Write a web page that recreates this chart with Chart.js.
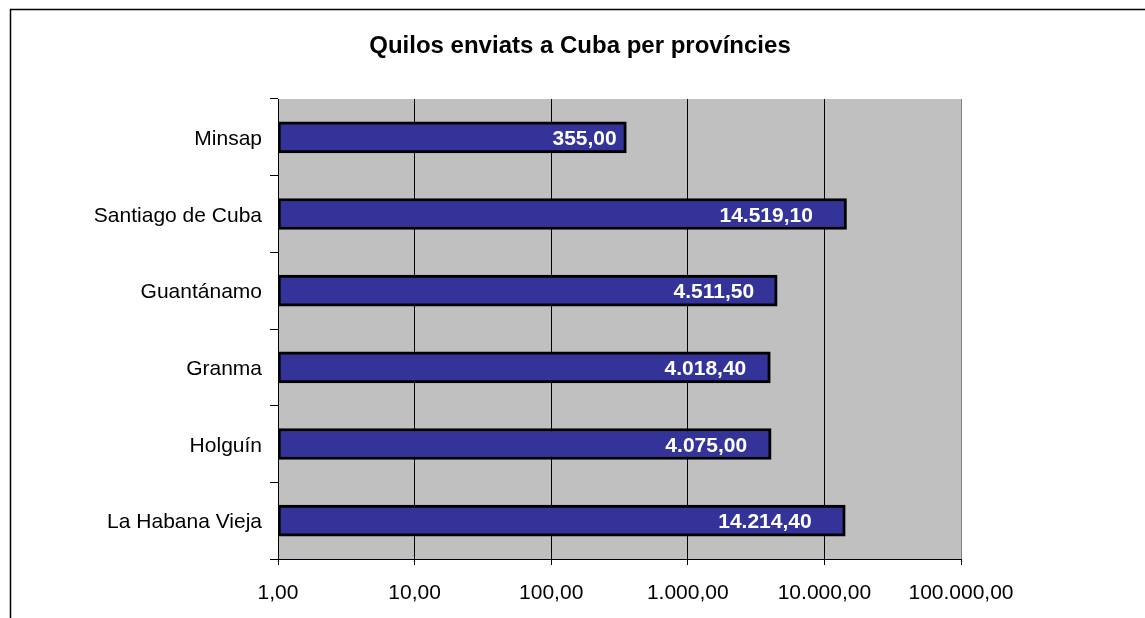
<!DOCTYPE html>
<html>
<head>
<meta charset="utf-8">
<script src="https://cdn.jsdelivr.net/npm/chart.js@4/dist/chart.umd.min.js"></script>
<style>
  html, body { margin: 0; padding: 0; background: #fff; }
  #c { display: block; }
</style>
</head>
<body>
<canvas id="c" width="1145" height="618"></canvas>
<script>
const chartTitle = 'Quilos enviats a Cuba per províncies';
const categories = ['Minsap', 'Santiago de Cuba', 'Guantánamo', 'Granma', 'Holguín', 'La Habana Vieja'];
const quilos = [355.00, 14519.10, 4511.50, 4018.40, 4075.00, 14214.40];
const tickValues = [1, 10, 100, 1000, 10000, 100000];
const tickLabels = ['1,00', '10,00', '100,00', '1.000,00', '10.000,00', '100.000,00'];

const FONT = "'Liberation Sans', Arial, sans-serif";

function fmt(v) {
  const parts = v.toFixed(2).split('.');
  const intPart = parts[0].replace(/\B(?=(\d{3})+(?!\d))/g, '.');
  return intPart + ',' + parts[1];
}

const framePlugin = {
  id: 'frame',
  beforeDraw(chart) {
    const ctx = chart.ctx;
    const a = chart.chartArea;
    ctx.save();
    ctx.fillStyle = '#ffffff';
    ctx.fillRect(0, 0, chart.width, chart.height);
    ctx.strokeStyle = '#000';
    ctx.lineWidth = 1.5;
    ctx.beginPath();
    ctx.moveTo(10.5, chart.height);
    ctx.lineTo(10.5, 9.5);
    ctx.lineTo(chart.width, 9.5);
    ctx.stroke();
    ctx.fillStyle = '#C0C0C0';
    ctx.fillRect(a.left, a.top, a.right - a.left, a.bottom - a.top);
    // chart title (real text)
    ctx.fillStyle = '#000';
    ctx.font = 'bold 24px ' + FONT;
    ctx.textAlign = 'center';
    ctx.textBaseline = 'middle';
    ctx.fillText(chartTitle, 580, 46);
    ctx.restore();
  }
};

const barLabelPlugin = {
  id: 'barLabels',
  afterDatasetsDraw(chart) {
    const ctx = chart.ctx;
    const meta = chart.getDatasetMeta(0);
    ctx.save();
    ctx.font = 'bold 21px ' + FONT;
    ctx.fillStyle = '#ffffff';
    ctx.textAlign = 'right';
    ctx.textBaseline = 'middle';
    meta.data.forEach((bar, i) => {
      const txt = fmt(chart.data.datasets[0].data[i]);
      const w = ctx.measureText(txt).width;
      const inset = Math.max(8, 0.82 * w - 43);
      ctx.fillText(txt, bar.x - inset, bar.y + 2);
    });
    ctx.restore();
  }
};

new Chart(document.getElementById('c'), {
  type: 'bar',
  data: {
    labels: categories,
    datasets: [{
      data: quilos,
      backgroundColor: '#333399',
      borderColor: '#000000',
      borderWidth: 3,
      borderSkipped: false,
      barThickness: 31
    }]
  },
  options: {
    indexAxis: 'y',
    responsive: false,
    animation: false,
    layout: { padding: { left: 12, right: 184, top: 99, bottom: 0 } },
    plugins: {
      legend: { display: false },
      tooltip: { enabled: false },
      title: { display: false }
    },
    scales: {
      x: {
        type: 'logarithmic',
        min: 1,
        max: 100000,
        afterBuildTicks(scale) {
          scale.ticks = tickValues.map(v => ({ value: v, major: true }));
        },
        afterFit(scale) { scale.height = 59; },
        ticks: {
          autoSkip: false,
          maxRotation: 0,
          color: '#000',
          padding: 16,
          font: { family: FONT, size: 21 },
          callback: (v, i) => tickLabels[i]
        },
        grid: {
          color: (c) => (c.index === tickValues.length - 1 ? '#808080' : '#000'),
          lineWidth: 1,
          drawTicks: true,
          tickLength: 6,
          tickColor: '#000'
        },
        border: { display: true, color: '#000', width: 1 }
      },
      y: {
        type: 'category',
        afterFit(scale) { scale.width = 266; },
        ticks: {
          color: '#000',
          padding: 8,
          labelOffset: 2,
          font: { family: FONT, size: 21 }
        },
        grid: {
          offset: true,
          drawOnChartArea: false,
          drawTicks: true,
          tickLength: 8,
          tickColor: '#000',
          color: '#000'
        },
        border: { display: true, color: '#000', width: 1 }
      }
    }
  },
  plugins: [framePlugin, barLabelPlugin]
});
</script>
</body>
</html>
